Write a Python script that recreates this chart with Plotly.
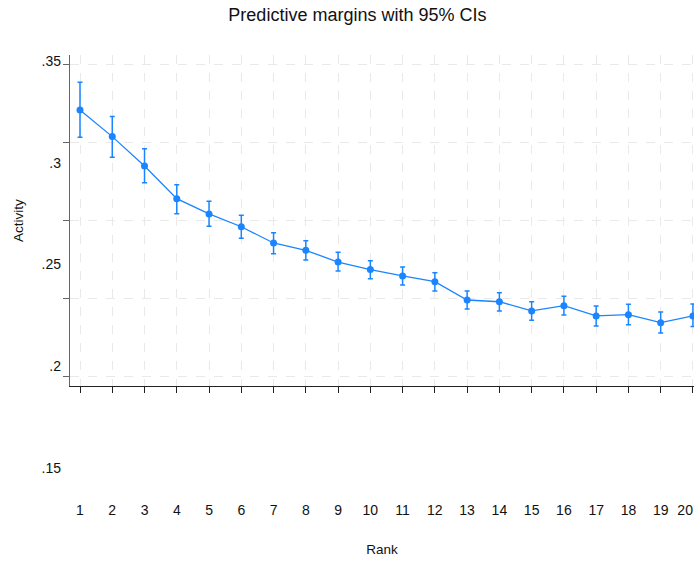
import plotly.graph_objects as go
import numpy as np

rank = list(range(1, 21))
margin = [0.3207, 0.3037, 0.2849, 0.2640, 0.2542, 0.2460, 0.2356, 0.2309, 0.2234, 0.2186,
          0.2145, 0.2108, 0.1991, 0.1980, 0.1921, 0.1955, 0.1889, 0.1897, 0.1846, 0.1889]
ci_low = [0.3033, 0.2905, 0.2742, 0.2544, 0.2463, 0.2386, 0.2287, 0.2247, 0.2177, 0.2127,
          0.2087, 0.2049, 0.1933, 0.1921, 0.1861, 0.1895, 0.1825, 0.1833, 0.1780, 0.1821]
ci_high = [0.3385, 0.3165, 0.2960, 0.2729, 0.2623, 0.2533, 0.2422, 0.2371, 0.2296, 0.2243,
           0.2202, 0.2166, 0.2049, 0.2038, 0.1980, 0.2015, 0.1953, 0.1964, 0.1914, 0.1965]
y_ticks = [0.15, 0.2, 0.25, 0.3, 0.35]
y_ticktext = [".15", ".2", ".25", ".3", ".35"]
x_ticktext = [str(r) for r in rank]

FONT = "Liberation Sans, Arial, Helvetica, sans-serif"
BLUE = "#1a85ff"

m = np.array(margin)
up = np.array(ci_high) - m
dn = m - np.array(ci_low)

# last label sits at the right edge: pad it so it stays fully inside the page
x_labels = x_ticktext[:-1] + [x_ticktext[-1] + "\u2007\u2007"]

fig = go.Figure()
fig.add_trace(go.Scatter(
    x=rank, y=margin, mode="lines+markers",
    line=dict(color=BLUE, width=1.3),
    marker=dict(color=BLUE, size=7),
    error_y=dict(type="data", symmetric=False, array=up, arrayminus=dn,
                 color=BLUE, thickness=1.5, width=2.5),
    showlegend=False, xaxis="x", yaxis="y",
))
# label-only axes
fig.add_trace(go.Scatter(x=[None], y=[None], xaxis="x2", yaxis="y2",
                         showlegend=False, hoverinfo="skip"))

xr = [0.69, 20.033]
fig.update_layout(
    width=694, height=562,
    margin=dict(l=70, r=0, t=55, b=62, autoexpand=False),
    paper_bgcolor="white", plot_bgcolor="rgba(0,0,0,0)",
    font=dict(family=FONT, color="#111"),
    title=dict(text="Predictive margins with 95% CIs", x=0.515, xanchor="center",
               y=1 - 15 / 562, yanchor="middle", font=dict(size=18, color="#111")),
    xaxis=dict(domain=[0, 1], range=xr, anchor="y", tickvals=rank, automargin=False,
               showticklabels=False, ticks="outside", ticklen=6, tickcolor="#222",
               showline=True, linecolor="#222", linewidth=1,
               showgrid=True, gridcolor="#e9e9e9", griddash="dash", gridwidth=1,
               zeroline=False),
    yaxis=dict(domain=[(500 - 386) / 445, 1], range=[0.14405, 0.35595], anchor="x",
               automargin=False,
               tickvals=y_ticks, showticklabels=False, ticks="outside", ticklen=6,
               tickcolor="#666", showline=True, linecolor="#666", linewidth=1,
               showgrid=True, gridcolor="#e9e9e9", griddash="dash", gridwidth=1,
               zeroline=False,
               title=dict(text="Activity", standoff=36, font=dict(size=13.5))),
    xaxis2=dict(domain=[0, 1], range=xr, anchor="y2", tickvals=rank, ticktext=x_labels,
                automargin=False,
                showline=False, showgrid=False, zeroline=False, ticks="",
                tickfont=dict(size=14), ticklabelstandoff=0, ticklabeloverflow="allow",
                title=dict(text="Rank", standoff=27, font=dict(size=13.5))),
    yaxis2=dict(domain=[0, 1], range=[0.13445, 0.3528], anchor="x2",
                automargin=False,
                tickvals=y_ticks, ticktext=y_ticktext,
                showline=False, showgrid=False, zeroline=False, ticks="",
                tickfont=dict(size=14), ticklabelstandoff=8, ticklabeloverflow="allow"),
)
fig.write_html("out.html")
